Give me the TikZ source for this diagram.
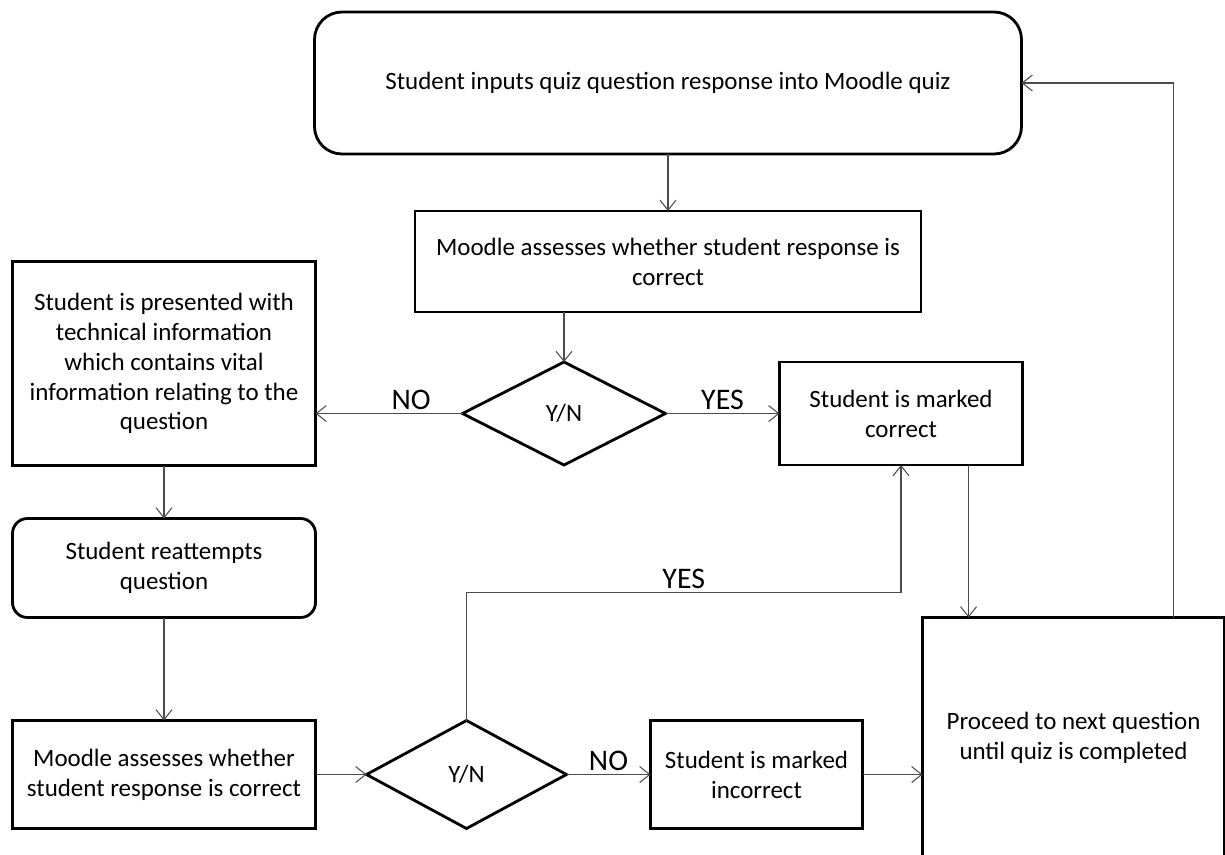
\documentclass[tikz,border=0pt]{standalone}
\usepackage{fontspec}
\setmainfont{Carlito}
\usetikzlibrary{shapes.geometric, arrows.meta, positioning}

\begin{document}
\begin{tikzpicture}[
    font=\fontsize{14.2}{17}\selectfont,
    block/.style={
        rectangle, draw, line width=1.6pt, fill=white,
        align=center, inner sep=2pt, outer sep=0pt
    },
    roundblock/.style={block, rounded corners=0.3cm},
    decision/.style={
        diamond, draw, line width=1.6pt, fill=white,
        align=center, inner sep=0pt, outer sep=0pt
    },
    arrow/.style={-{Straight Barb[length=2mm,width=3.2mm]}, draw=black!70, line width=0.6pt},
    answer/.style={font=\fontsize{17}{19}\selectfont, inner sep=2pt}
]
\useasboundingbox (0,0) rectangle (24.5,-17.08);

% Nodes
\node[roundblock, rounded corners=0.55cm, minimum width=14.14cm, minimum height=2.84cm] (input) at (13.36,-1.66)
    {Student inputs quiz question response into Moodle quiz};
\node[block, below=1.14cm of input, minimum width=10.12cm, minimum height=2.02cm] (assess) 
    {Moodle assesses whether student response is\\correct};
\node[decision, below=1cm of assess.south, xshift=-2.08cm, minimum width=4.06cm, minimum height=2.06cm] (check) {Y/N};

\node[block, left=2.94cm of check, yshift=1cm, minimum width=6.06cm, minimum height=4.08cm] (info)
    {Student is presented with\\technical information\\which contains vital\\information relating to the\\question};
\node[block, right=2.28cm of check, minimum width=4.86cm, minimum height=2.06cm] (correct)
    {Student is marked\\correct};

\node[roundblock, below=1.06cm of info, minimum width=6.06cm, minimum height=1.98cm] (retry)
    {Student reattempts\\question};
\node[block, below=2.06cm of retry, minimum width=6.06cm, minimum height=2.16cm] (reassess)
    {Moodle assesses whether\\student response is correct};
\node[decision, right=1.02cm of reassess, minimum width=4cm, minimum height=2.16cm] (recheck) {Y/N};
\node[block, right=1.68cm of recheck, minimum width=4.24cm, minimum height=2.16cm] (incorrect)
    {Student is marked\\incorrect};
\node[block, right=1.2cm of incorrect.north east, anchor=north west, yshift=2.06cm,
    minimum width=6.04cm, minimum height=4.8cm] (next)
    {Proceed to next question\\until quiz is completed};

\coordinate[above=2.56cm of recheck.north] (yesturn);

% Paths
\draw[arrow] (input) -- (assess);
\draw[arrow] (assess.south -| check.north) -- (check.north);
\draw[arrow] (check.west) -- node[answer, above, pos=0.35]{NO} (check.west -| info.east);
\draw[arrow] (check.east) -- node[answer, above]{YES} (correct.west);

\draw[arrow] (info) -- (retry);
\draw[arrow] (retry) -- (reassess);
\draw[arrow] (reassess) -- (recheck);
\draw[arrow] (recheck) -- node[answer, above]{NO} (incorrect);
\draw[arrow] (incorrect) -- (incorrect -| next.west);
\draw[arrow] (recheck.north) -- (yesturn) -- node[answer, above]{YES} (yesturn -| correct.south) -- (correct.south);

\draw[arrow] ([xshift=-1.08cm]correct.south east) -- ([xshift=-1.08cm]correct.south east |- next.north);
\draw[arrow] ([xshift=-1.02cm]next.north east) |- (input.east);

\end{tikzpicture}
\end{document}
